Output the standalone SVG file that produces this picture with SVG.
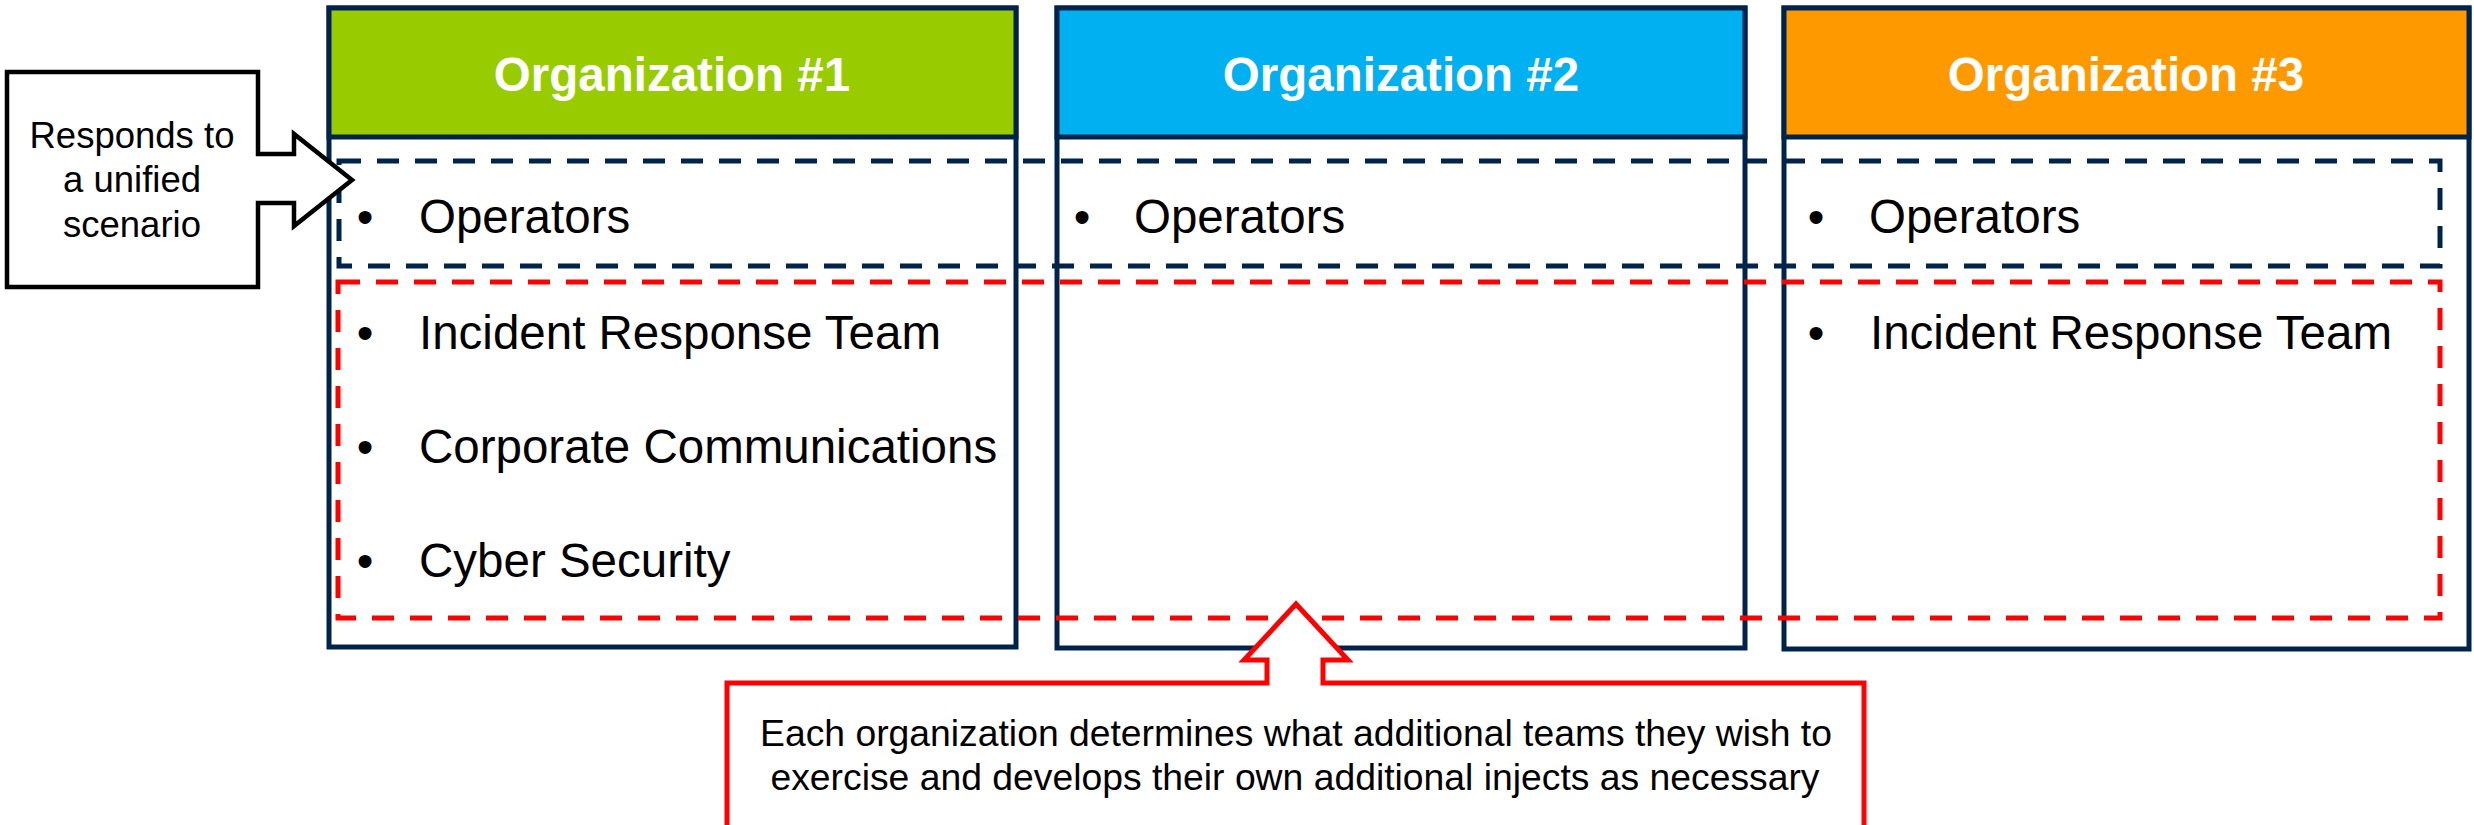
<svg xmlns="http://www.w3.org/2000/svg" width="2474" height="825" viewBox="0 0 2474 825">
<style>
.box{fill:#ffffff;stroke:#00234B;stroke-width:5}
.hdr{stroke:#00234B;stroke-width:5}
.title{font-family:"Liberation Sans",Arial,sans-serif;font-weight:bold;font-size:47.5px;fill:#ffffff;text-anchor:middle}
.item{font-family:"Liberation Sans",Arial,sans-serif;font-size:47.5px;fill:#000000}
.bul{font-family:"Liberation Sans",Arial,sans-serif;font-size:47.5px;fill:#000000;text-anchor:middle}
.note{font-family:"Liberation Sans",Arial,sans-serif;font-size:36.5px;fill:#000000;text-anchor:middle}
.note2{font-family:"Liberation Sans",Arial,sans-serif;font-size:37.3px;fill:#000000;text-anchor:middle}
.dash-blue{fill:none;stroke:#00234B;stroke-width:5;stroke-dasharray:22 16}
.dash-red{fill:none;stroke:#FF0000;stroke-width:5;stroke-dasharray:22 16}
</style>
<rect width="2474" height="825" fill="#ffffff"/>

<g id="org1">
<rect class="box" x="329" y="8" width="687" height="639"/>
<rect class="hdr" x="329" y="8" width="687" height="129" fill="#99CC00"/>
<text class="title" x="672" y="91">Organization #1</text>
<text class="bul" x="365" y="233">•</text><text class="item" x="419" y="233">Operators</text>
<text class="bul" x="365" y="349">•</text><text class="item" x="419" y="349">Incident Response Team</text>
<text class="bul" x="365" y="463">•</text><text class="item" x="419" y="463">Corporate Communications</text>
<text class="bul" x="365" y="577">•</text><text class="item" x="419" y="577">Cyber Security</text>
</g>

<g id="org2">
<rect class="box" x="1057" y="8" width="688" height="640"/>
<rect class="hdr" x="1057" y="8" width="688" height="129" fill="#00B0F0"/>
<text class="title" x="1401" y="91">Organization #2</text>
<text class="bul" x="1082" y="233">•</text><text class="item" x="1134" y="233">Operators</text>
</g>

<g id="org3">
<rect class="box" x="1784" y="8" width="685" height="641"/>
<rect class="hdr" x="1784" y="8" width="685" height="129" fill="#FF9900"/>
<text class="title" x="2126" y="91">Organization #3</text>
<text class="bul" x="1816" y="233">•</text><text class="item" x="1869" y="233">Operators</text>
<text class="bul" x="1816" y="349">•</text><text class="item" x="1870" y="349">Incident Response Team</text>
</g>

<g id="groupings">
<rect class="dash-blue" x="339" y="161" width="2101" height="105"/>
<rect class="dash-red" x="338" y="282" width="2102" height="336"/>
</g>

<g id="callout-unified">
<path d="M7,72 L258,72 L258,154 L294,154 L294,134 L352,180 L294,226 L294,203 L258,203 L258,287 L7,287 Z" fill="#ffffff" stroke="#000000" stroke-width="4.5" stroke-linejoin="miter"/>
<text class="note" x="132" y="148">Responds to</text>
<text class="note" x="132" y="192">a unified</text>
<text class="note" x="132" y="237">scenario</text>
</g>

<g id="callout-additional">
<path d="M727,683 L1267,683 L1267,660 L1244,660 L1296,604 L1348,660 L1323,660 L1323,683 L1864,683 L1864,832 L727,832 Z" fill="#ffffff" stroke="#FF0000" stroke-width="5"/>
<text class="note2" x="1296" y="746">Each organization determines what additional teams they wish to</text>
<text class="note2" x="1295" y="790">exercise and develops their own additional injects as necessary</text>
</g>
</svg>
